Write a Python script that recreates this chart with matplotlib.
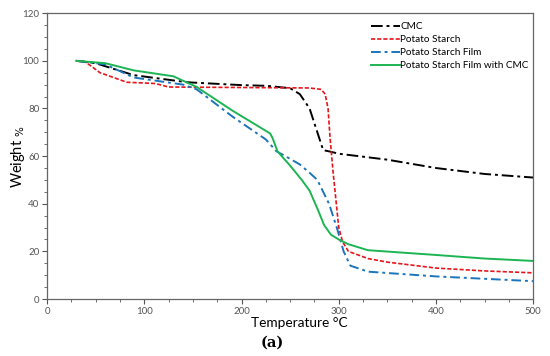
import matplotlib

matplotlib.use("Agg")
import matplotlib.pyplot as plt
from matplotlib.ticker import MultipleLocator

# CMC
cmc_t = [30, 50, 89, 144, 200, 226, 250, 260, 270, 278, 284, 290, 300, 350, 400, 450, 500]
cmc_w = [100, 99, 94, 91, 89.8, 89.5, 88.5, 86, 80, 70, 62.5, 62, 61, 58.5, 55, 52.5, 51]

# Potato starch
ps_t = [30, 38, 44, 54.5, 65, 82, 110, 116, 125, 200, 270, 282, 286, 289, 291, 294, 297, 300, 304, 310, 330, 350, 400, 450, 500]
ps_w = [100, 99.8, 98.2, 95, 93.5, 91, 90.5, 90, 89, 88.8, 88.6, 88, 86, 80, 68, 54, 42, 30, 24, 20, 17, 15.5, 13, 11.8, 11]

# Potato starch film
psf_t = [30, 60, 89, 140, 154, 191, 225, 236, 245, 260, 270, 278, 290, 298, 305, 312, 330, 400, 450, 500]
psf_w = [100, 98.5, 93, 90, 88, 76.5, 67, 62, 60, 56.5, 53, 50, 40, 30, 20, 14, 11.5, 9.5, 8.5, 7.5]

# Potato starch film with CMC
psfc_t = [30, 60, 89, 130, 154, 191, 229.5, 232, 237, 250, 262, 270, 278, 285, 292, 300, 310, 330, 400, 450, 500]
psfc_w = [100, 99, 96, 93.5, 89, 79, 69.5, 67.5, 62, 56, 50, 45.5, 38, 31, 27, 25, 23, 20.5, 18.5, 17, 16]

plt.rcParams["font.family"] = ["Lato", "DejaVu Sans"]

fig = plt.figure(figsize=(5.5, 3.56), dpi=100)
ax = fig.add_axes([0.0855, 0.16, 0.884, 0.803])

ax.plot(cmc_t, cmc_w, color="black", lw=1.4, dashes=(6, 2, 1.5, 2), label="CMC")
ax.plot(ps_t, ps_w, color="#e8141c", lw=1.2, dashes=(2.5, 1.2), label="Potato Starch")
ax.plot(psf_t, psf_w, color="#1b75bb", lw=1.4, dashes=(5, 2, 1.5, 2), label="Potato Starch Film")
ax.plot(psfc_t, psfc_w, color="#1db554", lw=1.4, label="Potato Starch Film with CMC")

ax.set_xlim(0, 500)
ax.set_ylim(0, 120)
ax.xaxis.set_major_locator(MultipleLocator(100))
ax.xaxis.set_minor_locator(MultipleLocator(25))
ax.yaxis.set_major_locator(MultipleLocator(20))
ax.yaxis.set_minor_locator(MultipleLocator(5))
ax.tick_params(which="both", direction="out", colors="#555555", labelsize=7,
               labelcolor="#555555", pad=2)
ax.tick_params(which="major", length=3.5)
ax.tick_params(which="minor", length=2)
for sp in ax.spines.values():
    sp.set_color("#666666")
    sp.set_linewidth(0.9)

fig.text(0.545, 0.094, "Temperature °C", ha="center", va="center", fontsize=9.8)
fig.text(0.033, 0.559, "Weight $_{\\%}$", ha="center", va="center", rotation=90, fontsize=10.5)

ax.legend(loc="upper left", bbox_to_anchor=(0.651, 0.993), frameon=False, fontsize=7.2,
          handlelength=2.9, handletextpad=0.05, labelspacing=0.4, borderpad=0.2)

fig.text(0.495, 0.038, "(a)", ha="center", va="center", fontsize=10.5, fontweight="bold",
         family="DejaVu Serif")

fig.savefig("out.png")
